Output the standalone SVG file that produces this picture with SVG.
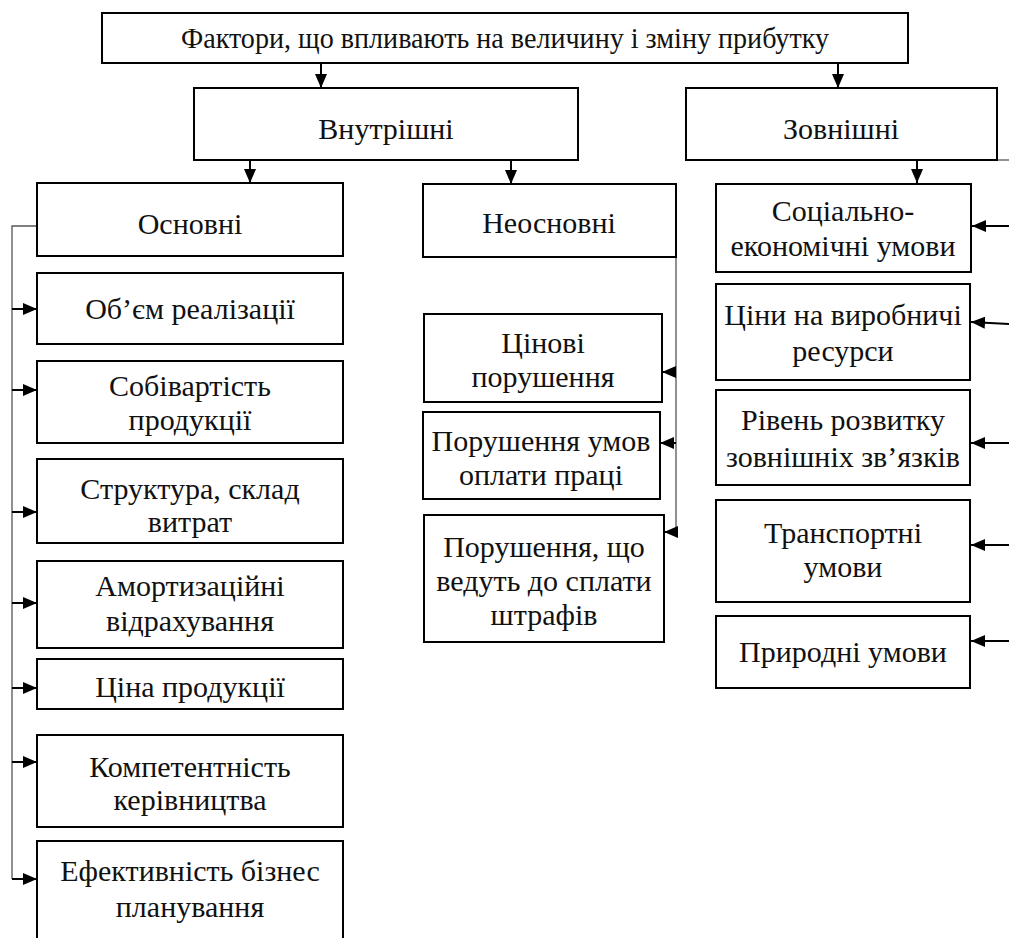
<svg xmlns="http://www.w3.org/2000/svg" width="1009" height="938" viewBox="0 0 1009 938" font-family="'Liberation Serif', serif">
<style>
.box{fill:#fff;stroke:#000;stroke-width:2}
text{font-family:'Liberation Serif','DejaVu Serif',serif;font-size:30px;fill:#111;text-anchor:middle}
.ar{stroke:#000;stroke-width:2;fill:none}
.ln{stroke:#555;stroke-width:1.3;fill:none}
</style>
<defs>
<marker id="ah" markerUnits="userSpaceOnUse" viewBox="0 0 14 12" markerWidth="14" markerHeight="12" refX="14" refY="6" orient="auto">
<path d="M0,0 L14,6 L0,12 z" fill="#000"/>
</marker>
</defs>
<rect width="1009" height="938" fill="#fff"/>
<g id="connectors">
<line class="ar" x1="321" y1="63" x2="321" y2="88" marker-end="url(#ah)"/>
<line class="ar" x1="838" y1="63" x2="838" y2="88" marker-end="url(#ah)"/>
<line class="ar" x1="250" y1="160" x2="250" y2="183" marker-end="url(#ah)"/>
<line class="ar" x1="511" y1="160" x2="511" y2="184" marker-end="url(#ah)"/>
<line class="ar" x1="917" y1="160" x2="917" y2="183" marker-end="url(#ah)"/>
<line class="ln" x1="997" y1="160" x2="1009" y2="160"/>
<polyline class="ln" points="37,226 12,226 12,879"/>
<line class="ar" x1="12" y1="309" x2="37" y2="309" marker-end="url(#ah)"/>
<line class="ar" x1="12" y1="390" x2="37" y2="390" marker-end="url(#ah)"/>
<line class="ar" x1="12" y1="512" x2="37" y2="512" marker-end="url(#ah)"/>
<line class="ar" x1="12" y1="603" x2="37" y2="603" marker-end="url(#ah)"/>
<line class="ar" x1="12" y1="688" x2="37" y2="688" marker-end="url(#ah)"/>
<line class="ar" x1="12" y1="762" x2="37" y2="762" marker-end="url(#ah)"/>
<line class="ar" x1="12" y1="879" x2="37" y2="879" marker-end="url(#ah)"/>
<line class="ln" x1="676" y1="256" x2="676" y2="532"/>
<line class="ar" x1="676" y1="372" x2="662" y2="372" marker-end="url(#ah)"/>
<line class="ar" x1="676" y1="443" x2="660" y2="443" marker-end="url(#ah)"/>
<line class="ar" x1="676" y1="532" x2="664" y2="532" marker-end="url(#ah)"/>
<line class="ar" x1="1009" y1="226" x2="972" y2="226" marker-end="url(#ah)"/>
<line class="ar" x1="1009" y1="324" x2="971" y2="322" marker-end="url(#ah)"/>
<line class="ar" x1="1009" y1="443" x2="971" y2="443" marker-end="url(#ah)"/>
<line class="ar" x1="1009" y1="545" x2="971" y2="545" marker-end="url(#ah)"/>
<line class="ar" x1="1009" y1="641" x2="971" y2="641" marker-end="url(#ah)"/>
</g>
<g id="root"><rect class="box" x="102" y="13" width="806" height="50"/><text x="505" y="48" textLength="648" lengthAdjust="spacingAndGlyphs">Фактори, що впливають на величину і зміну прибутку</text></g>
<g id="vnutrishni"><rect class="box" x="194" y="88" width="384" height="72"/><text x="386" y="139">Внутрішні</text></g>
<g id="zovnishni"><rect class="box" x="686" y="88" width="311" height="72"/><text x="841" y="139">Зовнішні</text></g>
<g id="osnovni"><rect class="box" x="37" y="183" width="306" height="73"/><text x="190" y="234">Основні</text></g>
<g id="obsyag"><rect class="box" x="37" y="273" width="306" height="71"/><text x="190" y="319">Об’єм реалізації</text></g>
<g id="sobivartist"><rect class="box" x="37" y="361" width="306" height="82"/><text x="190" y="396">Собівартість</text><text x="190" y="430">продукції</text></g>
<g id="struktura"><rect class="box" x="37" y="459" width="306" height="84"/><text x="190" y="499">Структура, склад</text><text x="190" y="532">витрат</text></g>
<g id="amort"><rect class="box" x="37" y="561" width="306" height="87"/><text x="190" y="596">Амортизаційні</text><text x="190" y="631">відрахування</text></g>
<g id="tsina"><rect class="box" x="37" y="659" width="306" height="50"/><text x="190" y="697">Ціна продукції</text></g>
<g id="kompet"><rect class="box" x="37" y="735" width="306" height="92"/><text x="190" y="777">Компетентність</text><text x="190" y="810">керівництва</text></g>
<g id="efekt"><rect class="box" x="37" y="841" width="306" height="110"/><text x="190" y="881">Ефективність бізнес</text><text x="190" y="917">планування</text></g>
<g id="neosnovni"><rect class="box" x="423" y="184" width="253" height="73"/><text x="549" y="233">Неосновні</text></g>
<g id="tsinovi"><rect class="box" x="424" y="314" width="238" height="88"/><text x="543" y="353">Цінові</text><text x="543" y="387">порушення</text></g>
<g id="oplata"><rect class="box" x="423" y="412" width="237" height="87"/><text x="541" y="451">Порушення умов</text><text x="541" y="485">оплати праці</text></g>
<g id="shtrafy"><rect class="box" x="424" y="515" width="240" height="127"/><text x="544" y="557">Порушення, що</text><text x="544" y="591">ведуть до сплати</text><text x="544" y="625">штрафів</text></g>
<g id="sotsialno"><rect class="box" x="716" y="184" width="255" height="88"/><text x="843" y="221">Соціально-</text><text x="843" y="256">економічні умови</text></g>
<g id="tsiny"><rect class="box" x="716" y="284" width="254" height="96"/><text x="843" y="325">Ціни на виробничі</text><text x="843" y="361">ресурси</text></g>
<g id="riven"><rect class="box" x="716" y="390" width="254" height="95"/><text x="843" y="430">Рівень розвитку</text><text x="843" y="467">зовнішніх зв’язків</text></g>
<g id="transport"><rect class="box" x="716" y="500" width="254" height="102"/><text x="843" y="543">Транспортні</text><text x="843" y="577">умови</text></g>
<g id="pryrodni"><rect class="box" x="716" y="616" width="254" height="72"/><text x="843" y="662">Природні умови</text></g>
</svg>
